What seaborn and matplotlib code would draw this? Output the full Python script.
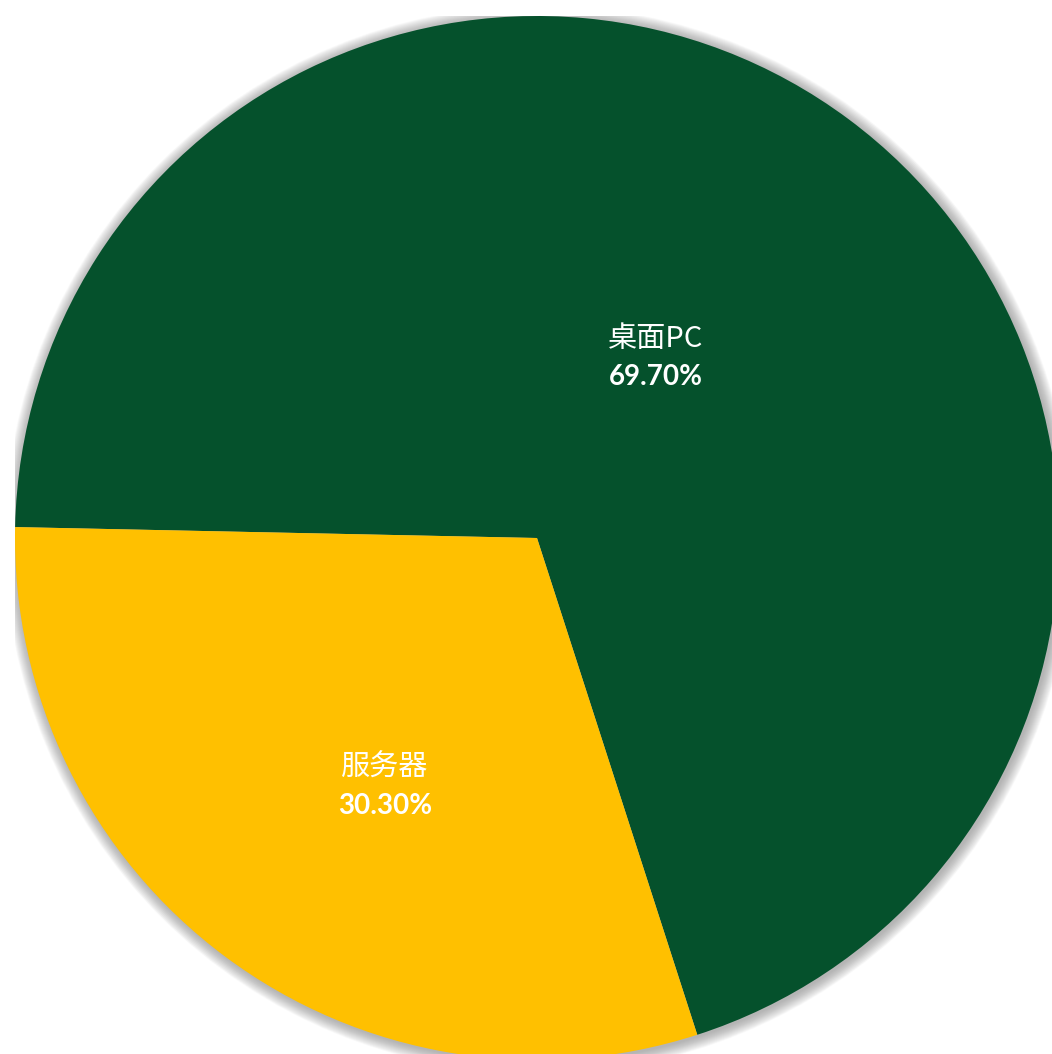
import numpy as np
import matplotlib
matplotlib.use("Agg")
import matplotlib.pyplot as plt
import seaborn as sns
from matplotlib.patches import Circle

# Market share by device type
categories = ["桌面PC", "服务器"]
shares = [69.70, 30.30]
pct_labels = ["69.70%", "30.30%"]
colors = ["#05512C", "#FFC000"]

sns.set_theme(style="white")
plt.rcParams["font.family"] = ["Noto Sans CJK SC", "DejaVu Sans"]

W, H = 1052, 1054
fig = plt.figure(figsize=(W / 100, H / 100), dpi=100)
fig.patch.set_facecolor("white")

# pie centre and radius in pixels
cx, cy, R = 537, 538, 522
ax = fig.add_axes([(cx - R) / W, (H - cy - R) / H, 2 * R / W, 2 * R / H])

# soft drop shadow behind the pie
n_layers = 26
for i in range(n_layers):
    rr = 1.0 + 0.0009 * (i + 1)
    ax.add_patch(Circle((0.003, -0.003), rr, facecolor="#808080",
                        alpha=0.028, lw=0, zorder=0))

wedges, _ = ax.pie(shares, colors=colors, startangle=178.8,
                   counterclock=False, radius=1.0, frame=True,
                   wedgeprops=dict(linewidth=0, zorder=2))

ax.set_xlim(-1, 1)
ax.set_ylim(-1, 1)
ax.set_aspect("equal")
ax.axis("off")

# label anchor points (fractions of the radius)
label_xy = [(0.228, 0.345), (-0.291, -0.477)]
for (x, y), name, pct in zip(label_xy, categories, pct_labels):
    ax.text(x, y + 0.037, name, ha="center", va="center", color="white",
            fontsize=21, family=["Noto Sans CJK SC", "DejaVu Sans"], zorder=5)
    ax.text(x, y - 0.037, pct, ha="center", va="center", color="white",
            fontsize=20, fontweight="bold",
            family=["Lato", "DejaVu Sans"], zorder=5)

fig.savefig("out.png", dpi=100, facecolor="white")
